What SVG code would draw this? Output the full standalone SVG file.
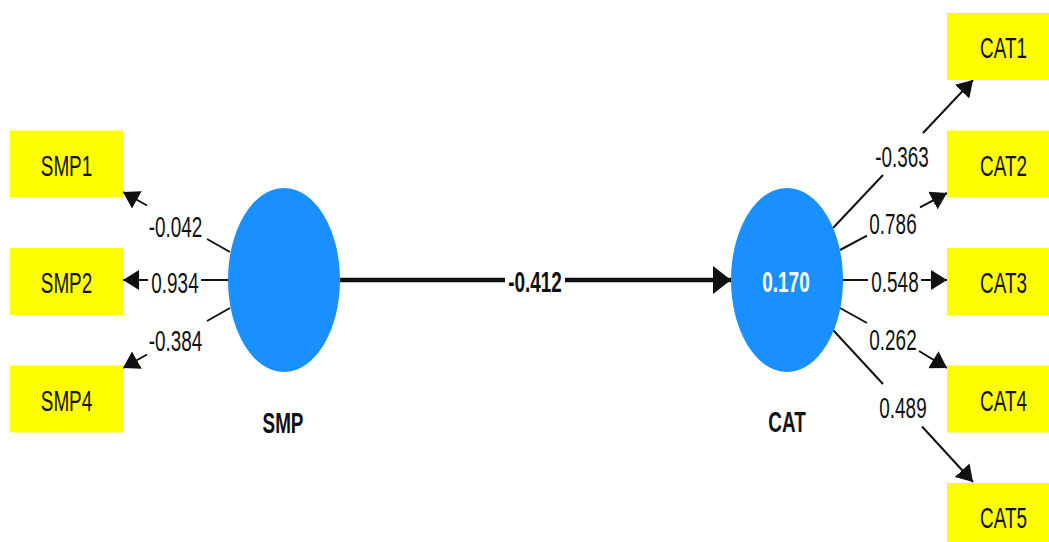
<svg xmlns="http://www.w3.org/2000/svg" width="1049" height="542" viewBox="0 0 1049 542">
<style>
.box{fill:#ffff00}
.lv{fill:#1a90ff}
.t{font-family:"Liberation Sans",Arial,sans-serif;font-size:30px;fill:#111;text-anchor:middle}
.b{font-weight:bold}
.w{fill:#ffffff}
.e{stroke:#111;stroke-width:2;fill:none}
.m{stroke:#111;stroke-width:4.5;fill:none}
</style>
<defs>
<marker id="ah" markerUnits="userSpaceOnUse" markerWidth="16" markerHeight="20" refX="16" refY="10" orient="auto" viewBox="0 0 16 20"><path d="M0,0 L16,10 L0,20 z" fill="#111"/></marker>
<marker id="ahm" markerUnits="userSpaceOnUse" markerWidth="18" markerHeight="28" refX="18" refY="14" orient="auto" viewBox="0 0 18 28"><path d="M0,0 L18,14 L0,28 z" fill="#111"/></marker>
</defs>
<rect width="1049" height="542" fill="#ffffff"/>
<g id="connectors">
<line class="e" x1="230" y1="252" x2="207" y2="239"/>
<line class="e" x1="147" y1="205.5" x2="123" y2="192" marker-end="url(#ah)"/>
<line class="e" x1="228" y1="280" x2="201" y2="280"/>
<line class="e" x1="148" y1="280" x2="123" y2="280" marker-end="url(#ah)"/>
<line class="e" x1="230" y1="308" x2="207" y2="321"/>
<line class="e" x1="147" y1="354.5" x2="123" y2="368" marker-end="url(#ah)"/>
<line class="m" x1="340" y1="280" x2="505" y2="280"/>
<line class="m" x1="565" y1="280" x2="731" y2="280" marker-end="url(#ahm)"/>
<line class="e" x1="833" y1="228" x2="883" y2="175"/>
<line class="e" x1="923" y1="133" x2="973" y2="80" marker-end="url(#ah)"/>
<line class="e" x1="840" y1="250" x2="867" y2="235.6"/>
<line class="e" x1="920" y1="207.4" x2="947" y2="193" marker-end="url(#ah)"/>
<line class="e" x1="843" y1="280" x2="868" y2="280"/>
<line class="e" x1="921" y1="280" x2="947" y2="280" marker-end="url(#ah)"/>
<line class="e" x1="840" y1="308" x2="867" y2="323"/>
<line class="e" x1="919" y1="351" x2="947" y2="368" marker-end="url(#ah)"/>
<line class="e" x1="833" y1="330" x2="883" y2="384"/>
<line class="e" x1="922" y1="426.5" x2="973" y2="482" marker-end="url(#ah)"/>
<g id="edge-labels">
<text class="t" transform="translate(175.5,237) scale(0.63,1)">-0.042</text>
<text class="t" transform="translate(175,293) scale(0.63,1)">0.934</text>
<text class="t" transform="translate(175.5,351) scale(0.63,1)">-0.384</text>
<text class="t b" transform="translate(535,292) scale(0.63,1)">-0.412</text>
<text class="t" transform="translate(902,167) scale(0.63,1)">-0.363</text>
<text class="t" transform="translate(893,234) scale(0.63,1)">0.786</text>
<text class="t" transform="translate(895,292) scale(0.63,1)">0.548</text>
<text class="t" transform="translate(893,350) scale(0.63,1)">0.262</text>
<text class="t" transform="translate(903,418) scale(0.63,1)">0.489</text>
</g>
</g>
<g id="SMP">
<ellipse class="lv" cx="284" cy="280" rx="56" ry="92"/>
<text class="t b" transform="translate(283,433) scale(0.63,1)">SMP</text>
</g>
<g id="CAT">
<ellipse class="lv" cx="787" cy="280" rx="56" ry="92"/>
<text class="t b w" transform="translate(786,292) scale(0.63,1)">0.170</text>
<text class="t b" transform="translate(787,432) scale(0.63,1)">CAT</text>
</g>
<g id="SMP1"><rect class="box" x="10" y="130.5" width="113" height="67"/><text class="t" transform="translate(66.5,175.5) scale(0.63,1)">SMP1</text></g>
<g id="SMP2"><rect class="box" x="10" y="248" width="113" height="67"/><text class="t" transform="translate(66.5,293) scale(0.63,1)">SMP2</text></g>
<g id="SMP4"><rect class="box" x="10" y="365.5" width="113" height="67"/><text class="t" transform="translate(66.5,410.5) scale(0.63,1)">SMP4</text></g>
<g id="CAT1"><rect class="box" x="947" y="13" width="113" height="67"/><text class="t" transform="translate(1003.5,58) scale(0.63,1)">CAT1</text></g>
<g id="CAT2"><rect class="box" x="947" y="130.5" width="113" height="67"/><text class="t" transform="translate(1003.5,175.5) scale(0.63,1)">CAT2</text></g>
<g id="CAT3"><rect class="box" x="947" y="248" width="113" height="67"/><text class="t" transform="translate(1003.5,293) scale(0.63,1)">CAT3</text></g>
<g id="CAT4"><rect class="box" x="947" y="365.5" width="113" height="67"/><text class="t" transform="translate(1003.5,410.5) scale(0.63,1)">CAT4</text></g>
<g id="CAT5"><rect class="box" x="947" y="483" width="113" height="67"/><text class="t" transform="translate(1003.5,528) scale(0.63,1)">CAT5</text></g>
</svg>
